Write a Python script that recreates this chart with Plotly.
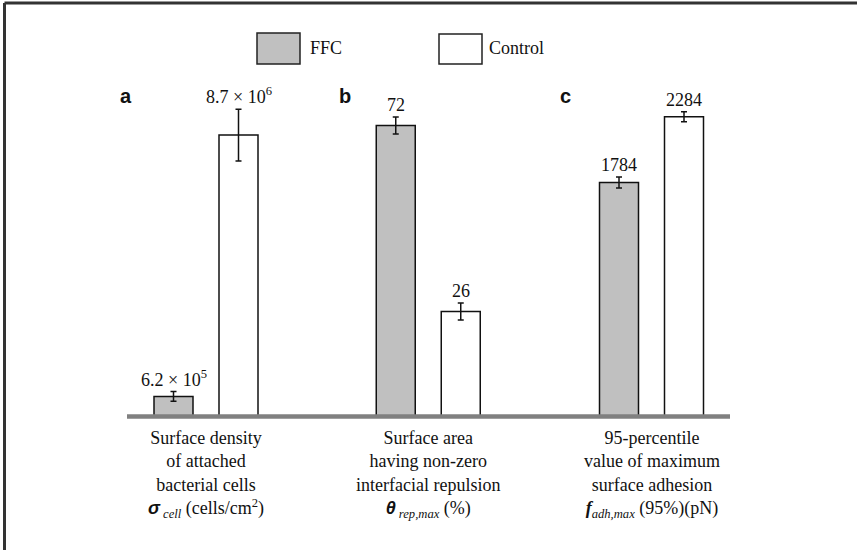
import plotly.graph_objects as go

# ---------------- data ----------------
panels = ["a", "b", "c"]
ffc_values = [6.2e5, 72, 1784]
control_values = [8.7e6, 26, 2284]
ffc_errors = [0.15e6, 2.1, 42]
control_errors = [0.8e6, 2.1, 38]
ffc_labels = ["6.2 × 10<sup>5</sup>", "72", "1784"]
control_labels = ["8.7 × 10<sup>6</sup>", "26", "2284"]
category_labels = [
    "Surface density<br>of attached<br>bacterial cells<br>"
    "<span style='font-family:Liberation Sans'><b><i>σ</i></b></span>"
    "<sub><i> cell</i></sub> (cells/cm<sup>2</sup>)",
    "Surface area<br>having non-zero<br>interfacial repulsion<br>"
    "<span style='font-family:Liberation Sans'><b><i>θ</i></b></span>"
    "<sub><i> rep,max</i></sub> (%)",
    "95-percentile<br>value of maximum<br>surface adhesion<br>"
    "<b><i>f</i></b><sub><i>adh,max</i></sub> (95%)(pN)",
]
series_names = ["FFC", "Control"]

# ---------------- layout constants ----------------
W, H = 857, 550
SERIF = "Liberation Serif"
SANS = "Liberation Sans"
FFC_COLOR = "#c0c0c0"
CTRL_COLOR = "#ffffff"
TXT = "#111111"

def px(x):
    return x / W

def py(y):
    return 1 - y / H

y_domain = [py(416.5), py(50)]
x_domains = [[px(141), px(271)], [px(363.25), px(493.25)], [px(586.5), px(716.5)]]
y_max = [11.33e6, 90.7, 2793]

fig = go.Figure()

for i in range(3):
    sfx = "" if i == 0 else str(i + 1)
    xa, ya = "x" + sfx, "y" + sfx
    fig.add_trace(go.Bar(
        x=[0], y=[ffc_values[i]], width=0.6, name=series_names[0],
        marker=dict(color=FFC_COLOR, line=dict(color=TXT, width=1.5)),
        error_y=dict(type="data", array=[ffc_errors[i]], color=TXT, thickness=1.5, width=3),
        xaxis=xa, yaxis=ya, showlegend=False, hoverinfo="skip",
    ))
    fig.add_trace(go.Bar(
        x=[1], y=[control_values[i]], width=0.6, name=series_names[1],
        marker=dict(color=CTRL_COLOR, line=dict(color=TXT, width=1.5)),
        error_y=dict(type="data", array=[control_errors[i]], color=TXT, thickness=1.5, width=3),
        xaxis=xa, yaxis=ya, showlegend=False, hoverinfo="skip",
    ))
    axis_common = dict(showgrid=False, zeroline=False, showticklabels=False, showline=False, ticks="")
    fig.layout["xaxis" + sfx] = dict(domain=x_domains[i], range=[-0.5, 1.5], anchor=ya, **axis_common)
    fig.layout["yaxis" + sfx] = dict(domain=y_domain, range=[0, y_max[i]], anchor=xa, **axis_common)

    # value labels
    for xv, val, err, lab in [(0, ffc_values[i], ffc_errors[i], ffc_labels[i]),
                              (1, control_values[i], control_errors[i], control_labels[i])]:
        fig.add_annotation(x=xv, y=val + err, xref=xa, yref=ya, text=lab, showarrow=False,
                           xanchor="center", yanchor="bottom", yshift=0,
                           font=dict(family=SERIF, size=18, color=TXT))
    # category labels
    fig.add_annotation(x=0.5, y=py(474.5), xref=xa, yref="paper", text=category_labels[i],
                       showarrow=False, xanchor="center", yanchor="middle", align="center",
                       font=dict(family=SERIF, size=18, color=TXT))

# panel letters
for lab, xp in zip(panels, [126, 345, 565]):
    fig.add_annotation(x=px(xp), y=py(96), xref="paper", yref="paper", text="<b>" + lab + "</b>",
                       showarrow=False, xanchor="center", yanchor="middle",
                       font=dict(family=SANS, size=20, color=TXT))

# legend (drawn)
shapes = [
    dict(type="rect", xref="paper", yref="paper", x0=px(257), x1=px(300), y0=py(64), y1=py(33),
         fillcolor=FFC_COLOR, line=dict(color="#222222", width=1.5)),
    dict(type="rect", xref="paper", yref="paper", x0=px(439), x1=px(482), y0=py(64), y1=py(34),
         fillcolor=CTRL_COLOR, line=dict(color="#222222", width=1.5)),
    # baseline
    dict(type="line", xref="paper", yref="paper", x0=px(127), x1=px(730), y0=py(416.5), y1=py(416.5),
         line=dict(color="#808080", width=4.5), layer="above"),
    # frame (left and top)
    dict(type="line", xref="paper", yref="paper", x0=px(4.5), x1=px(4.5), y0=0, y1=py(3),
         line=dict(color="#333333", width=3)),
    dict(type="line", xref="paper", yref="paper", x0=px(4.5), x1=1, y0=py(3), y1=py(3),
         line=dict(color="#333333", width=3)),
]
fig.add_annotation(x=px(308), y=py(48), xref="paper", yref="paper", text=series_names[0],
                   showarrow=False, xanchor="left", yanchor="middle",
                   font=dict(family=SERIF, size=18, color=TXT))
fig.add_annotation(x=px(487), y=py(48), xref="paper", yref="paper", text=series_names[1],
                   showarrow=False, xanchor="left", yanchor="middle",
                   font=dict(family=SERIF, size=18, color=TXT))

fig.update_layout(
    width=W, height=H, margin=dict(l=0, r=0, t=0, b=0),
    paper_bgcolor="white", plot_bgcolor="rgba(0,0,0,0)",
    shapes=shapes, showlegend=False, barmode="overlay",
)

fig.write_html("out.html", config={"displayModeBar": False},
               post_script="document.body.style.margin='0';"
                           "document.body.style.overflow='hidden';"
                           "document.documentElement.style.overflow='hidden';")
